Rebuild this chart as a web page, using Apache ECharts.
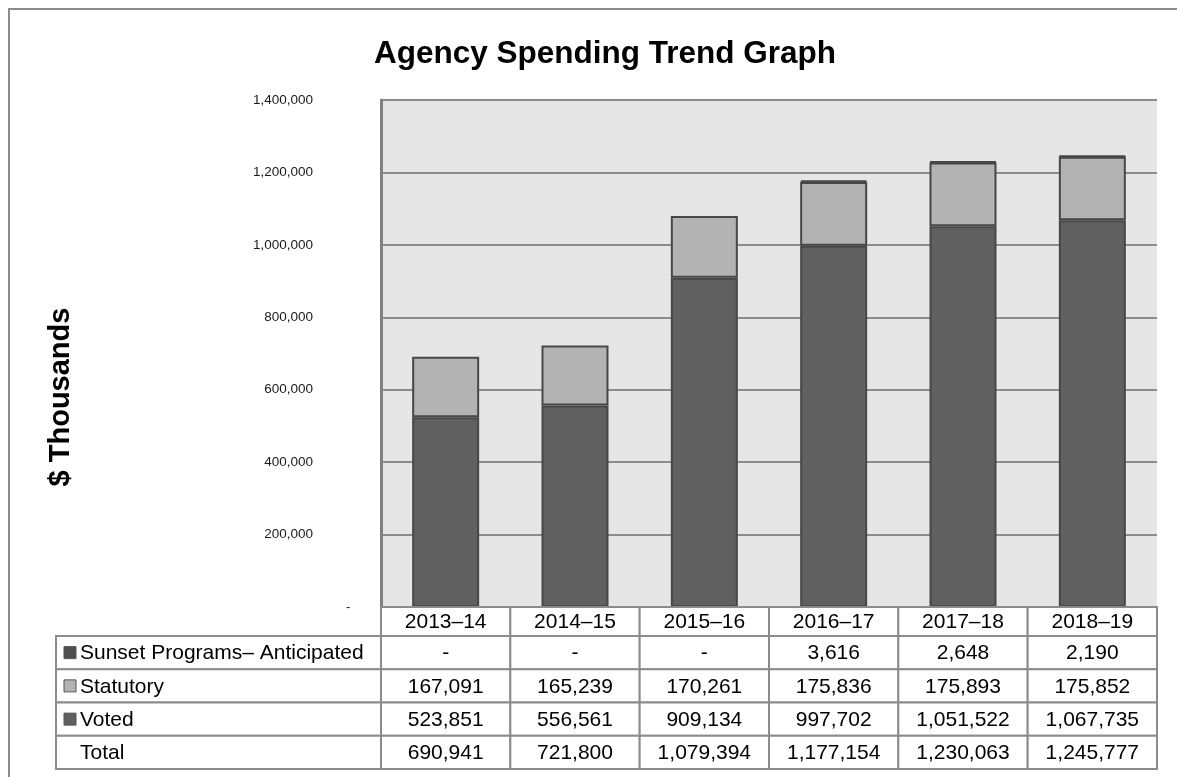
<!DOCTYPE html>
<html>
<head>
<meta charset="utf-8">
<style>
html,body{margin:0;padding:0;background:#fff;}
#chart{width:1177px;height:777px;}
</style>
<script src="https://cdn.jsdelivr.net/npm/echarts@6/dist/echarts.min.js"></script>
</head>
<body>
<div id="chart"></div>
<script>
// ---- data ----
var categories = ['2013\u201314','2014\u201315','2015\u201316','2016\u201317','2017\u201318','2018\u201319'];
var voted     = [523851, 556561, 909134, 997702, 1051522, 1067735];
var statutory = [167091, 165239, 170261, 175836, 175893, 175852];
var sunset    = [null, null, null, 3616, 2648, 2190];
var totals    = [690941, 721800, 1079394, 1177154, 1230063, 1245777];
var yTicks    = [0, 200000, 400000, 600000, 800000, 1000000, 1200000, 1400000];
var rowNames  = ['Sunset Programs\u2013 Anticipated', 'Statutory', 'Voted', 'Total'];

var COL_VOTED = '#606060', COL_STAT = '#b3b3b3', COL_SUN = '#4f4f4f', EDGE = '#474747';
var FONT = 'Liberation Sans, Arial, sans-serif';

function fmt(v){ return (v === null || v === undefined) ? '-' : v.toLocaleString('en-US'); }

var GL = 381, GR = 1157, GT = 100, GB = 607, W = 1177, H = 777;

var chart = echarts.init(document.getElementById('chart'), null, {renderer:'canvas'});
var option = {
  animation: false,
  backgroundColor: '#ffffff',
  title: {
    text: 'Agency Spending Trend Graph',
    left: 369, top: 33,
    textStyle: {fontFamily: FONT, fontSize: 31.5, fontWeight: 'bold', color: '#000'}
  },
  grid: {
    left: GL, right: W - GR, top: GT, bottom: H - GB,
    show: true, backgroundColor: '#e6e6e6', borderWidth: 0
  },
  xAxis: {
    type: 'category', data: categories,
    axisLine: {show: false}, axisTick: {show: false}, axisLabel: {show: false},
    splitLine: {show: false}
  },
  yAxis: {
    type: 'value', min: yTicks[0], max: yTicks[yTicks.length-1], interval: 200000,
    axisLine: {show: true, lineStyle: {color: '#808080', width: 3}},
    axisTick: {show: false},
    axisLabel: {
      margin: 68, fontFamily: FONT, fontSize: 13.5, color: '#1a1a1a',
      formatter: function(v){ return v === 0 ? '' : v.toLocaleString('en-US'); }
    },
    splitLine: {show: true, lineStyle: {color: '#8c8c8c', width: 2}}
  },
  series: [
    {name: 'Voted', type: 'bar', stack: 's', data: voted, barWidth: 67,
     itemStyle: {color: COL_VOTED, borderColor: EDGE, borderWidth: 2}},
    {name: 'Statutory', type: 'bar', stack: 's', data: statutory, barWidth: 67,
     itemStyle: {color: COL_STAT, borderColor: EDGE, borderWidth: 2}},
    {name: 'Sunset Programs\u2013 Anticipated', type: 'bar', stack: 's', data: sunset, barWidth: 67,
     itemStyle: {color: COL_SUN, borderColor: EDGE, borderWidth: 2}}
  ]
};
chart.setOption(option);

// ---- data table drawn below the plot ----
var g = [];
var zeroY = chart.convertToPixel({yAxisIndex: 0}, 0);
g.push({type:'text', left: 346, top: zeroY - 6, style:{text:'-', font:'13px ' + FONT, fill:'#1a1a1a'}});
// y axis title
g.push({type:'text', x: 61, y: 397, rotation: Math.PI/2,
        style:{text:'$ Thousands', font:'bold 29px ' + FONT, fill:'#000', align:'center', verticalAlign:'middle'}});
// outer frame
g.push({type:'rect', shape:{x:9, y:9, width:1300, height:900}, style:{fill:'none', stroke:'#8c8c8c', lineWidth:2}, z: 100});

var cw = (GR - GL) / categories.length;
var headTop = GB, headH = 29;
var rowTop0 = 636, rowH = 33.25;
var lineStyle = {fill:'#fff', stroke:'#8c8c8c', lineWidth:2};
var textFont = '21px ' + FONT;

for (var i = 0; i < categories.length; i++) {
  var cx = chart.convertToPixel({xAxisIndex:0}, categories[i]);
  var x0 = GL + i * cw;
  g.push({type:'rect', z:50, shape:{x:x0, y:headTop, width:cw, height:headH}, style:lineStyle});
  g.push({type:'text', z:51, x:cx, y:headTop + headH/2 + 1, style:{text:categories[i], font:textFont, fill:'#000', align:'center', verticalAlign:'middle'}});
  var rows = [sunset[i], statutory[i], voted[i], totals[i]];
  for (var r = 0; r < rows.length; r++) {
    var ry = rowTop0 + r * rowH;
    g.push({type:'rect', z:50, shape:{x:x0, y:ry, width:cw, height:rowH}, style:lineStyle});
    g.push({type:'text', z:51, x:cx, y:ry + rowH/2 + 1, style:{text:fmt(rows[r]), font:textFont, fill:'#000', align:'center', verticalAlign:'middle'}});
  }
}
var legendFill = [COL_SUN, COL_STAT, COL_VOTED, null];
for (var r = 0; r < rowNames.length; r++) {
  var ry = rowTop0 + r * rowH;
  g.push({type:'rect', z:50, shape:{x:56, y:ry, width:GL - 56, height:rowH}, style:lineStyle});
  if (legendFill[r]) {
    g.push({type:'rect', z:51, shape:{x:64, y:ry + rowH/2 - 6, width:12, height:12}, style:{fill:legendFill[r], stroke:'#555', lineWidth:1}});
  }
  g.push({type:'text', z:51, x:80, y:ry + rowH/2 + 1, style:{text:rowNames[r], font:textFont, fill:'#000', align:'left', verticalAlign:'middle'}});
}
chart.setOption({graphic: g});
</script>
</body>
</html>
